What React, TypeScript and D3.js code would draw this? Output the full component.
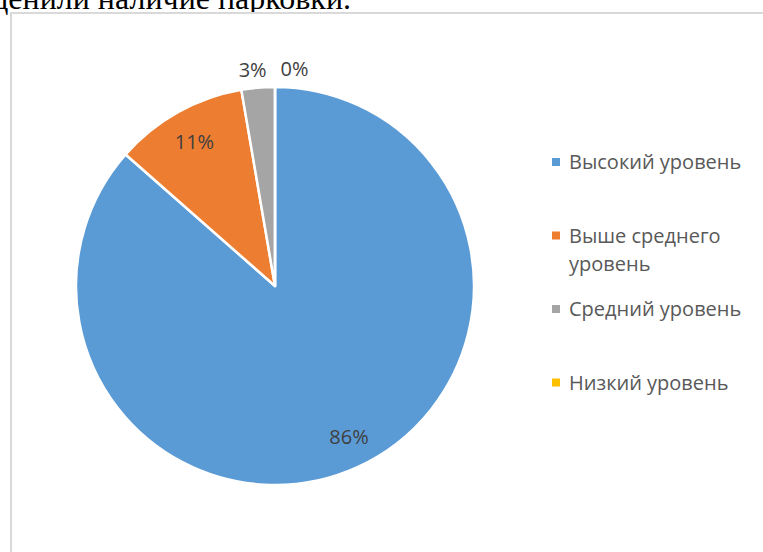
import React, { useEffect, useRef } from 'react';
import * as d3 from 'd3';

const categories = ['Высокий уровень', 'Выше среднего уровень', 'Средний уровень', 'Низкий уровень'];
const counts = [32, 4, 1, 0];
const percentLabels = ['86%', '11%', '3%', '0%'];
const colors = ['#5b9bd5', '#ed7d31', '#a5a5a5', '#ffc000'];
const captionText = 'оценили наличие парковки.';

export default function App() {
  const ref = useRef<SVGSVGElement>(null);

  useEffect(() => {
    if (!ref.current) return;
    const svg = d3.select(ref.current);
    svg.selectAll('*').remove();

    const width = 763;
    const height = 552;
    svg.attr('width', width).attr('height', height).attr('viewBox', `0 0 ${width} ${height}`);

    // ------- caption above the chart (cut off by the page top) -------
    svg.append('text')
      .attr('x', 351)
      .attr('y', 9)
      .attr('text-anchor', 'end')
      .attr('font-family', '"Liberation Serif", serif')
      .attr('font-size', 32)
      .attr('fill', '#000')
      .text(captionText);

    // ------- chart frame -------
    svg.append('rect')
      .attr('x', 11)
      .attr('y', 13)
      .attr('width', 800)
      .attr('height', 700)
      .attr('fill', '#fff')
      .attr('stroke', '#d9d9d9')
      .attr('stroke-width', 2);

    // ------- pie -------
    const cx = 275;
    const cy = 286;
    const r = 199;

    const data = categories.map((c, i) => ({ name: c, value: counts[i], label: percentLabels[i], color: colors[i] }));
    const pie = d3.pie<any>().sort(null).value((d) => d.value);
    const arcs = pie(data);
    const arc = d3.arc<any>().innerRadius(0).outerRadius(r);
    const labelArc = d3.arc<any>().innerRadius(r * 0.83).outerRadius(r * 0.83);
    const outerArc = d3.arc<any>().innerRadius(r + 18).outerRadius(r + 18);

    const g = svg.append('g').attr('transform', `translate(${cx},${cy})`);

    g.selectAll('path')
      .data(arcs)
      .enter()
      .append('path')
      .attr('d', arc)
      .attr('fill', (d) => d.data.color)
      .attr('stroke', '#fff')
      .attr('stroke-width', 2.5)
      .attr('stroke-linejoin', 'round');

    // ------- data labels -------
    let lastOutsideX = -Infinity;
    arcs.forEach((d) => {
      const share = (d.endAngle - d.startAngle) / (2 * Math.PI);
      let [lx, ly] = share > 0.05 ? labelArc.centroid(d) : outerArc.centroid(d);
      if (share > 0.5) lx += 6;
      if (share <= 0.05) {
        lx -= 4;
        if (lx - lastOutsideX < 42) lx = lastOutsideX + 42;
        lastOutsideX = lx;
      }
      g.append('text')
        .attr('x', lx)
        .attr('y', ly)
        .attr('dy', '0.35em')
        .attr('text-anchor', 'middle')
        .attr('font-family', '"Open Sans", sans-serif')
        .attr('font-size', 20)
        .attr('fill', '#404040')
        .text(d.data.label);
    });

    // ------- legend -------
    const legend = svg.append('g').attr('transform', 'translate(552,0)');
    const slot = 73.5;
    const lineH = 28;
    const textX = 17;
    data.forEach((d, i) => {
      const y0 = 162 + i * slot;
      legend.append('rect')
        .attr('x', 0)
        .attr('y', y0 - 4)
        .attr('width', 8)
        .attr('height', 8)
        .attr('fill', d.color);

      const t = legend.append('text')
        .attr('font-family', '"Open Sans", sans-serif')
        .attr('font-size', 20)
        .attr('fill', '#595959');

      // wrap into lines no wider than the legend column
      const words = d.name.split(' ');
      const maxW = 192;
      let line: string[] = [];
      let lineNo = 0;
      let tspan = t.append('tspan').attr('x', textX).attr('y', y0).attr('dy', '0.35em');
      words.forEach((w) => {
        line.push(w);
        tspan.text(line.join(' '));
        if ((tspan.node() as SVGTextContentElement).getComputedTextLength() > maxW && line.length > 1) {
          line.pop();
          tspan.text(line.join(' '));
          line = [w];
          lineNo += 1;
          tspan = t.append('tspan')
            .attr('x', textX)
            .attr('y', y0 + lineNo * lineH)
            .attr('dy', '0.35em')
            .text(w);
        }
      });
    });
  }, []);

  return <svg ref={ref} style={{ position: 'absolute', left: 0, top: 0 }} />;
}
